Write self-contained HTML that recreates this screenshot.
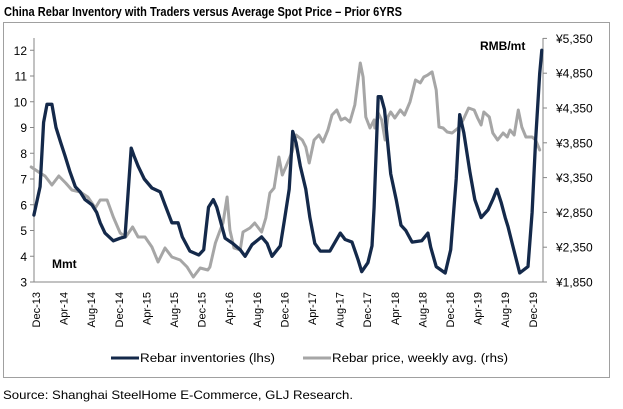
<!DOCTYPE html>
<html><head><meta charset="utf-8">
<style>
body{margin:0;background:#fff;width:623px;height:404px;overflow:hidden;font-family:"Liberation Sans",sans-serif;}
svg text{font-family:"Liberation Sans",sans-serif;}
</style></head>
<body>
<svg id="chart" width="623" height="404" viewBox="0 0 623 404" xmlns="http://www.w3.org/2000/svg">
<text x="4" y="16" font-size="12.5" font-weight="bold" fill="#000" textLength="398" lengthAdjust="spacingAndGlyphs">China Rebar Inventory with Traders versus Average Spot Price – Prior 6YRS</text>
<rect x="3.5" y="22.5" width="606" height="355" fill="none" stroke="#a0a0a0" stroke-width="1"/>
<g id="axes"></g>
<g id="series"></g>
<text x="52" y="268" font-size="12" font-weight="bold" fill="#000">Mmt</text>
<text x="480" y="50" font-size="12" font-weight="bold" fill="#000">RMB/mt</text>
<g>
<line x1="111" y1="358" x2="139" y2="358" stroke="#14294a" stroke-width="3"/>
<text x="140" y="362" font-size="11.5" fill="#000" textLength="135" lengthAdjust="spacingAndGlyphs">Rebar inventories (lhs)</text>
<line x1="303" y1="358" x2="331" y2="358" stroke="#a6a6a6" stroke-width="3"/>
<text x="332" y="362" font-size="11.5" fill="#000" textLength="176" lengthAdjust="spacingAndGlyphs">Rebar price, weekly avg. (rhs)</text>
</g>
<text x="3" y="399" font-size="12" fill="#000" textLength="350" lengthAdjust="spacingAndGlyphs">Source: Shanghai SteelHome E-Commerce, GLJ Research.</text>
</svg>
<script>
const xLabels=["Dec-13","Apr-14","Aug-14","Dec-14","Apr-15","Aug-15","Dec-15","Apr-16","Aug-16","Dec-16","Apr-17","Aug-17","Dec-17","Apr-18","Aug-18","Dec-18","Apr-19","Aug-19","Dec-19"];
const leftTicks=[3,4,5,6,7,8,9,10,11,12];
const rightTicks=[1850,2350,2850,3350,3850,4350,4850,5350];
const invMonths=[-0.3,0.6,1.1,1.6,2.3,2.9,3.6,4.2,4.9,5.7,6.4,7.1,8.1,8.8,9.3,10,11.2,12.2,12.9,13.2,13.8,14.2,14.8,15.7,16.8,18,18.7,19.7,20.6,21.2,22.3,23.6,24.3,25,25.7,26.2,27,27.4,28.5,29.6,30.3,31.3,32.7,33.5,34.2,35.4,36,36.7,37.2,37.7,38.3,39.1,39.7,40.4,41.2,42.6,44.1,44.8,45.8,46.7,47.2,48.1,48.7,49,49.6,50,50.5,50.9,51.4,52.2,52.9,53.6,54.5,55.9,56.8,57.2,58,59.3,60.1,60.9,61.4,62,62.9,63.6,64.5,65.5,66.2,66.8,67.4,68,68.4,69.1,70.1,71.3,71.9,72.4,73,73.3];
const invValues=[5.6,6.7,9.2,9.9,9.9,9.0,8.4,7.9,7.3,6.7,6.5,6.2,6.0,5.7,5.3,4.9,4.6,4.7,4.75,5.9,8.2,7.9,7.5,7.0,6.65,6.5,6.0,5.3,5.3,4.75,4.2,4.05,4.25,5.9,6.2,5.9,5.1,4.7,4.5,4.25,4.0,4.45,4.75,4.5,4.0,4.4,5.4,6.6,8.85,8.4,7.5,6.6,5.5,4.5,4.2,4.2,4.9,4.65,4.55,3.85,3.4,3.75,4.4,5.9,10.2,10.2,9.7,8.6,7.2,6.2,5.2,5.0,4.55,4.6,4.9,4.35,3.6,3.35,4.25,7.0,9.5,8.8,7.25,6.2,5.5,5.8,6.2,6.6,6.1,5.5,5.15,4.4,3.35,3.6,5.7,8.5,11.1,12.0];
const priceMonths=[-0.7,0.6,1.3,2.3,3.3,4.3,5.2,6.4,7.5,8.6,9.3,10.3,11.2,12.2,13,14,14.8,15.8,16.8,17.7,18.7,19.7,20.9,21.9,22.8,23.8,24.9,25.2,26,26.7,27.1,27.7,28.1,28.7,29.6,30,31,31.7,32.7,33.3,33.9,34.5,35.2,35.7,36.2,37.1,37.7,38.6,39.1,39.6,40.3,41,41.6,42.3,42.9,43.6,44.2,44.8,45.5,46.2,47,47.4,47.8,48.4,49,49.1,49.6,50.1,50.6,51,51.4,52,52.8,53.4,54.2,55,55.7,56.2,56.8,57.4,58,58.4,59,59.6,60.3,61.2,61.9,62.7,63.5,64,64.5,64.9,65.7,66.2,66.9,67.7,68.3,68.7,69.3,69.9,70.4,71,71.9,72.4,73];
const priceValues=[3502,3416,3373,3244,3373,3273,3172,3143,3071,2913,3028,3028,2784,2554,2497,2640,2497,2497,2353,2137,2339,2209,2166,2066,1922,2051,2022,2066,2410,2597,2698,3071,2597,2339,2310,2568,2626,2698,2568,2770,3129,3201,3646,3387,3502,3717,3962,3890,3790,3560,3890,3962,3862,4034,4250,4321,4178,4207,4149,4393,4997,4796,4221,4063,4178,4063,4278,4178,3890,4221,4293,4207,4321,4250,4437,4753,4710,4796,4825,4868,4609,4077,4063,4005,3991,4063,4178,4350,4321,4207,4106,4293,4221,3991,3890,3991,3933,4034,3962,4321,4077,3933,3933,3890,3747];

const NS="http://www.w3.org/2000/svg";
const X0=34,X1=543,Y0=282;
function xScale(m){return 36+m*6.9;}
function yLeft(v){return Y0-(v-3)*25.75;}
function yRight(p){return Y0-(p-1850)/500*34.8;}
function mk(tag,attrs,parent){const e=document.createElementNS(NS,tag);for(const k in attrs)e.setAttribute(k,attrs[k]);parent.appendChild(e);return e;}
const axes=document.getElementById('axes');
const series=document.getElementById('series');

let a=mk('line',{x1:X0,y1:38,x2:X0,y2:Y0,stroke:'#868686','stroke-width':1},axes);


a=mk('line',{x1:X1,y1:38,x2:X1,y2:Y0,stroke:'#868686','stroke-width':1},axes);


a=mk('line',{x1:X0,y1:Y0,x2:X1,y2:Y0,stroke:'#868686','stroke-width':1},axes);



leftTicks.forEach(v=>{
  const y=yLeft(v);
  const t=mk('line',{x1:X0-4,y1:y,x2:X0,y2:y,stroke:'#868686'},axes);
  
  
  const l=mk('text',{x:27,y:y+4.5,'font-size':12,'text-anchor':'end',fill:'#000'},axes);
  l.textContent=v;
  
  
});
rightTicks.forEach(v=>{
  const y=yRight(v);
  const t=mk('line',{x1:X1,y1:y,x2:X1+4,y2:y,stroke:'#868686'},axes);
  
  
  const l=mk('text',{x:556,y:y+4.5,'font-size':12,fill:'#000'},axes);
  l.textContent='¥'+v.toLocaleString('en-US');
  
  
});
xLabels.forEach((s,i)=>{
  const x=xScale(i*4);
  const l=mk('text',{x:0,y:0,'font-size':11,'text-anchor':'end',fill:'#000',transform:'translate('+(x+4)+',292) rotate(-90)'},axes);
  l.textContent=s;
  
  
});
function line(ms,vs,ys,color,name,w){
  const pts=ms.map((m,i)=>xScale(m).toFixed(1)+','+ys(vs[i]).toFixed(1)).join(' ');
  const p=mk('polyline',{points:pts,fill:'none',stroke:color,'stroke-width':w,'stroke-linejoin':'round','stroke-linecap':'round'},series);
  
  
}
line(priceMonths,priceValues,yRight,'#a6a6a6','rebar-price-line',3);
line(invMonths,invValues,yLeft,'#14294a','rebar-inventory-line',3.3);
</script>
</body></html>
